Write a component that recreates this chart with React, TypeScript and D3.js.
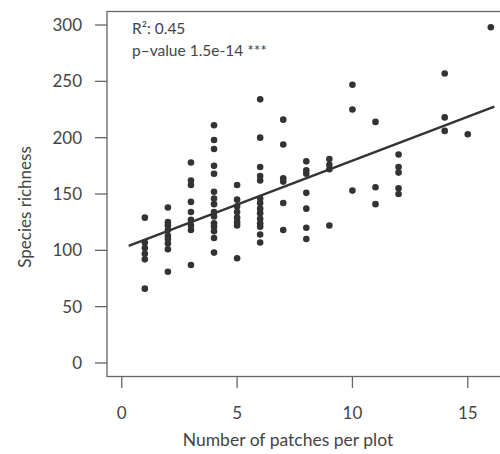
import React from "react";
import * as d3 from "d3";

const PATCHES_1 = [129, 107, 102, 97, 92, 66];
const PATCHES_2 = [138, 125, 122, 118, 113, 110, 106, 101, 81];
const PATCHES_3 = [178, 162, 158, 143, 134, 127, 122, 118, 87];
const PATCHES_4 = [211, 198, 190, 175, 168, 152, 146, 141, 134, 130, 124, 121, 117, 111, 98];
const PATCHES_5 = [158, 145, 139, 134, 129, 125, 122, 93];
const PATCHES_6 = [234, 200, 174, 166, 162, 146, 142, 137, 133, 128, 124, 121, 114, 107];
const PATCHES_7 = [216, 194, 164, 161, 142, 118];
const PATCHES_8 = [179, 171, 168, 151, 137, 120, 110];
const PATCHES_9 = [181, 176, 172, 122];
const PATCHES_10 = [247, 225, 153];
const PATCHES_11 = [214, 156, 141];
const PATCHES_12 = [185, 174, 169, 155, 150];
const PATCHES_14 = [257, 218, 206];
const PATCHES_15 = [203];
const PATCHES_16 = [298];

const GROUPS: [number, number[]][] = [
  [1, PATCHES_1], [2, PATCHES_2], [3, PATCHES_3], [4, PATCHES_4], [5, PATCHES_5],
  [6, PATCHES_6], [7, PATCHES_7], [8, PATCHES_8], [9, PATCHES_9], [10, PATCHES_10],
  [11, PATCHES_11], [12, PATCHES_12], [14, PATCHES_14], [15, PATCHES_15], [16, PATCHES_16],
];

const X_TICKS = [0, 5, 10, 15];
const Y_TICKS = [0, 50, 100, 150, 200, 250, 300];
const FIT_INTERCEPT = 101.6;
const FIT_SLOPE = 7.8;
const FIT_RANGE = [0.3, 16.15];
const ANNOTATION = ["R²: 0.45", "p–value 1.5e-14 ***"];

export default function App() {
  const W = 500, H = 454;
  const x = d3.scaleLinear().domain([-0.64, 16.64]).range([107, 505.6]);
  const y = d3.scaleLinear().domain([-12, 312]).range([376.5, 11.5]);
  const points = GROUPS.flatMap(([px, vals]) => vals.map((v) => ({ px, v })));
  const line = d3.line<number>().x((d) => x(d)).y((d) => y(FIT_INTERCEPT + FIT_SLOPE * d));
  const font = "Lato, 'Open Sans', sans-serif";
  const txt = "#444";
  const axisCol = "#666";
  const [x0, x1] = x.range();
  const [y0, y1] = y.range();
  return (
    <svg width={W} height={H} style={{ position: "absolute", left: 0, top: 0 }} fontFamily={font}>
      <rect x={0} y={0} width={W} height={H} fill="#fff" />
      <rect x={x0} y={y1} width={x1 - x0} height={y0 - y1} fill="none" stroke={axisCol} strokeWidth={1.3} />
      {Y_TICKS.map((t) => (
        <g key={"y" + t}>
          <line x1={x0 - 12} x2={x0} y1={y(t)} y2={y(t)} stroke={axisCol} strokeWidth={1.3} />
          <text x={82} y={y(t)} dy="0.36em" textAnchor="end" fontSize={17} fill={txt}>{t}</text>
        </g>
      ))}
      {X_TICKS.map((t) => (
        <g key={"x" + t}>
          <line x1={x(t)} x2={x(t)} y1={377} y2={388} stroke={axisCol} strokeWidth={1.3} />
          <text x={x(t)} y={413} dy="0.36em" textAnchor="middle" fontSize={17} fill={txt}>{t}</text>
        </g>
      ))}
      <text x={288} y={446} textAnchor="middle" fontSize={17.5} fill={txt}>Number of patches per plot</text>
      <text transform="translate(25,207) rotate(-90)" dy="0.36em" textAnchor="middle" fontSize={17} fill={txt}>Species richness</text>
      <path d={line(FIT_RANGE) || ""} stroke="#333" strokeWidth={2.4} fill="none" />
      {points.map((p, i) => (
        <circle key={i} cx={x(p.px)} cy={y(p.v)} r={3.3} fill="#333" />
      ))}
      <text x={132} y={34} fontSize={15.5} fill={txt}>{ANNOTATION[0]}</text>
      <text x={132} y={56} fontSize={15.5} fill={txt}>{ANNOTATION[1]}</text>
    </svg>
  );
}
